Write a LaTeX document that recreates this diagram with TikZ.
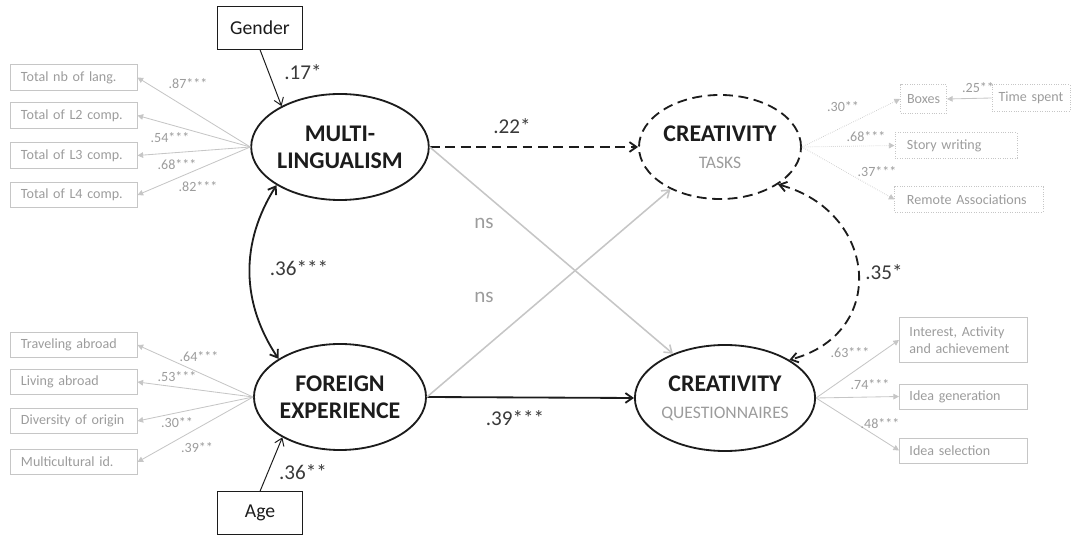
\documentclass[tikz,border=0pt]{standalone}
\usepackage{fontspec}
\setmainfont{Carlito}
\usetikzlibrary{shapes.geometric,arrows.meta}
\definecolor{lightline}{HTML}{C6C6C6}
\definecolor{graytext}{HTML}{9C9C9C}
\definecolor{darkline}{HTML}{1C1C1C}
\definecolor{labeltext}{HTML}{3A3A3A}
\tikzset{
  latent/.style={ellipse, draw=darkline, line width=1.3pt, inner sep=0pt,
    minimum width=4.3cm, minimum height=2.65cm, align=center,
    font=\fontsize{17}{19}\selectfont\bfseries, text=darkline},
  covbox/.style={rectangle, draw=darkline, line width=0.7pt, text=darkline,
    minimum width=2.12cm, minimum height=1.06cm, font=\fontsize{14}{16}\selectfont},
  indbox/.style={rectangle, draw=lightline, line width=0.7pt, text=graytext,
    inner xsep=0.25cm, inner ysep=0pt, text width=2.65cm, align=left,
    minimum height=0.625cm, font=\fontsize{10}{12}\selectfont},
  taskbox/.style={indbox, draw=lightline, densely dotted},
  indarrow/.style={-{Triangle[length=4pt,width=4pt]}, draw=lightline, line width=0.6pt},
  mainarrow/.style={-{Straight Barb[length=5pt,width=7pt]}, draw=darkline, line width=1.3pt},
  covarrow/.style={{Straight Barb[length=5pt,width=7pt]}-{Straight Barb[length=5pt,width=7pt]},
    draw=darkline, line width=1.3pt},
  crossarrow/.style={-{Straight Barb[length=5pt,width=7pt]}, draw=lightline, line width=1.1pt},
  coef/.style={text=labeltext, font=\fontsize{15}{17}\selectfont},
  loading/.style={text=graytext, font=\fontsize{10}{12}\selectfont, inner sep=0pt}
}
\newcommand{\subname}[1]{{\color{graytext}\fontsize{12.5}{14}\mdseries\selectfont #1}}
\begin{document}
\begin{tikzpicture}[x=0.025cm, y=-0.025cm]
  \useasboundingbox (0,0) rectangle (1072,536);

  % latent variables
  \node[latent] (multi) at (340,147) {MULTI-\\LINGUALISM};
  \node[latent] (foreign) at (340,397) {FOREIGN\\EXPERIENCE};
  \node[latent, dash pattern=on 7pt off 4pt, minimum width=4.05cm, minimum height=2.6cm]
    (tasks) at (720,147) {CREATIVITY\\\subname{TASKS}};
  \node[latent, minimum width=4.1cm, minimum height=2.65cm]
    (quest) at (725,398) {CREATIVITY\\\subname{QUESTIONNAIRES}};

  % covariates
  \node[covbox] (gender) at (260,28) {Gender};
  \node[covbox] (age) at (260,513) {Age};

  % indicators of multilingualism
  \node[indbox] (nlang) at (74,77.5) {Total nb of lang.};
  \node[indbox] (ltwo) at (74,115.5) {Total of L2 comp.};
  \node[indbox] (lthree) at (74,155.5) {Total of L3 comp.};
  \node[indbox] (lfour) at (74,195) {Total of L4 comp.};

  % indicators of foreign experience
  \node[indbox] (travel) at (74,345) {Traveling abroad};
  \node[indbox] (living) at (74,382) {Living abroad};
  \node[indbox] (diversity) at (74,421) {Diversity of origin};
  \node[indbox] (multicult) at (74,462) {Multicultural id.};

  % indicators of creativity tasks
  \node[taskbox, text width=0.95cm, align=center, inner xsep=0.1cm, minimum height=0.7cm] (boxes) at (923.5,99) {Boxes};
  \node[taskbox, text width=1.75cm, align=center, inner xsep=0.1cm, minimum height=0.65cm] (timespent) at (1031,98) {Time spent};
  \node[taskbox, text width=2.45cm, inner xsep=0.3cm] (story) at (956,145.5) {Story writing};
  \node[taskbox, text width=3.1cm, inner xsep=0.3cm] (remote) at (969,199.5) {Remote Associations};

  % indicators of creativity questionnaires
  \node[indbox, text width=2.7cm, inner ysep=2pt, minimum height=1.1cm] (interest) at (963.5,340) {Interest, Activity\\and achievement};
  \node[indbox, text width=2.7cm] (ideagen) at (963.5,396.5) {Idea generation};
  \node[indbox, text width=2.7cm] (ideasel) at (963.5,450.5) {Idea selection};

  % measurement paths
  \draw[indarrow] (multi.west) -- (nlang.east);
  \draw[indarrow] (multi.west) -- (ltwo.east);
  \draw[indarrow] (multi.west) -- (lthree.east);
  \draw[indarrow] (multi.west) -- (lfour.east);
  \draw[indarrow] (foreign.west) -- (travel.east);
  \draw[indarrow] (foreign.west) -- (living.east);
  \draw[indarrow] (foreign.west) -- (diversity.east);
  \draw[indarrow] (foreign.west) -- (multicult.east);
  \begin{scope}[densely dotted]
    \draw[indarrow] (tasks.east) -- (boxes.west);
    \draw[indarrow] (tasks.east) -- (story.west);
    \draw[indarrow] (tasks.east) -- (remote.west);
  \end{scope}
  \draw[indarrow] (timespent.west) -- (boxes.east);
  \draw[indarrow] (quest.east) -- (interest.west);
  \draw[indarrow] (quest.east) -- (ideagen.west);
  \draw[indarrow] (quest.east) -- (ideasel.west);

  % structural paths
  \draw[mainarrow, line width=0.7pt] (gender.south) -- (multi.145);
  \draw[mainarrow, line width=0.7pt] (age.north) -- (foreign.215);
  \draw[mainarrow, dash pattern=on 7pt off 4pt] (multi.east) -- (tasks.west);
  \draw[mainarrow] (foreign.east) -- (quest.west);
  \draw[crossarrow] (multi.east) -- (quest);
  \draw[crossarrow] (foreign.east) -- (tasks);
  \draw[covarrow] (multi.south west) to[bend right=33] (foreign.north west);
  \draw[covarrow, dash pattern=on 7pt off 4pt]
    (tasks.south east) to[out=-15, in=15, looseness=1.5] (quest.north east);

  % coefficients
  \node[coef] (cgender) at (303,72) {.17*};
  \node[coef] (cage) at (303,472) {.36**};
  \node[coef] (cmulti) at (512,126) {.22*};
  \node[coef] (cforeign) at (515,418) {.39***};
  \node[coef] (ccov) at (299,268) {.36***};
  \node[coef] (ctasks) at (884,272) {.35*};
  \node[coef, text=graytext] (nsupper) at (484,223) {ns};
  \node[coef, text=graytext] (nslower) at (484,297) {ns};

  % loadings
  \node[loading] (lnlang) at (188,84) {.87***};
  \node[loading] (lltwo) at (170,138) {.54***};
  \node[loading] (llthree) at (177,165) {.68***};
  \node[loading] (llfour) at (198,187) {.82***};
  \node[loading] (ltravel) at (199,357) {.64***};
  \node[loading] (lliving) at (177,377) {.53***};
  \node[loading] (ldiversity) at (177,423) {.30**};
  \node[loading] (lmulticult) at (197,448) {.39**};
  \node[loading] (lboxes) at (843,107) {.30**};
  \node[loading] (ltime) at (978,88) {.25**};
  \node[loading] (lstory) at (866,137) {.68***};
  \node[loading] (lremote) at (877,172) {.37***};
  \node[loading] (linterest) at (850,353) {.63***};
  \node[loading] (lideagen) at (870,385) {.74***};
  \node[loading] (lideasel) at (880,424) {.48***};
\end{tikzpicture}
\end{document}
